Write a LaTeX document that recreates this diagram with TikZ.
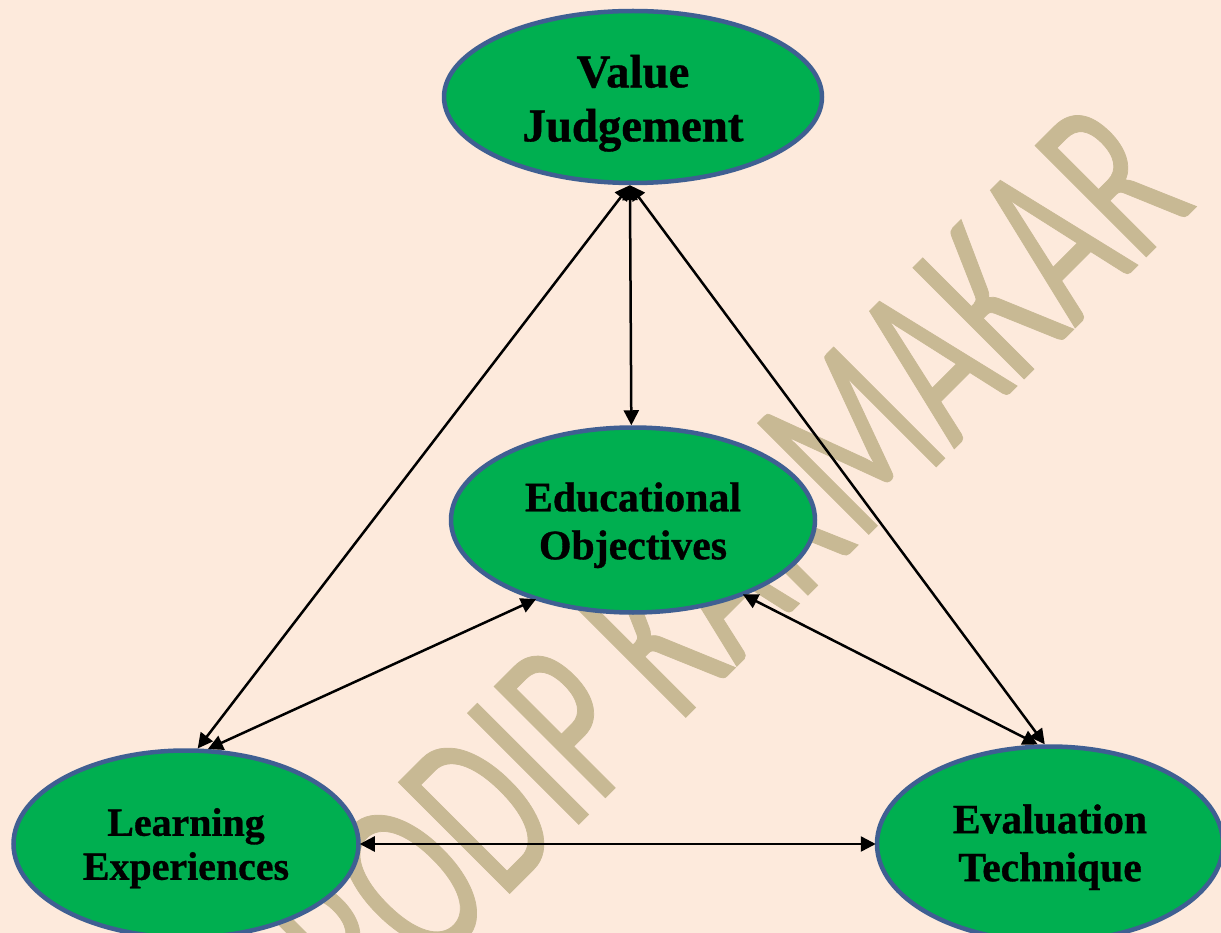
\documentclass[tikz,border=0pt]{standalone}
\usepackage{fontspec}
\setmainfont{Liberation Serif}
\newfontfamily\wmfont[FakeStretch=0.635,FakeBold=0.3]{Carlito}
\newfontfamily\lblfont[FakeBold=0.8]{Liberation Serif Bold}
\usetikzlibrary{shapes.geometric,arrows.meta}
\definecolor{bgc}{HTML}{FDEADC}
\definecolor{wmc}{HTML}{C8B994}
\definecolor{okfill}{HTML}{00AF50}
\definecolor{okline}{HTML}{3F5F92}
\newcommand{\topstrut}[1]{\rule{0pt}{#1pt}}
\tikzset{
  goal/.style={ellipse,draw=okline,fill=okfill,line width=4.5pt,inner sep=0pt,outer sep=2.25pt,align=center,text=black},
  link/.style={line width=2.5pt,draw=black,{Triangle[length=15pt,width=15pt]}-{Triangle[length=15pt,width=15pt]}}
}
\begin{document}
\begin{tikzpicture}[x=1pt,y=-1pt]
\useasboundingbox (0,0) rectangle (1221,933);
\clip (0,0) rectangle (1221,933);
\fill[bgc] (0,0) rectangle (1221,933);
\node[anchor=base east,rotate=45,text=wmc,inner sep=0pt,font=\wmfont\fontsize{245}{245}\selectfont] (mark) at (1198,205) {PRODIP KARMAKAR};
\node[goal,minimum width=378pt,minimum height=172pt,font=\lblfont\fontsize{46.8}{54}\selectfont] (val) at (633,97) {\topstrut{45}Value\\Judgement};
\node[goal,minimum width=364pt,minimum height=185pt,font=\lblfont\fontsize{41.8}{48}\selectfont] (edu) at (633,520) {\topstrut{39.4}Educational\\Objectives};
\node[goal,minimum width=345pt,minimum height=187pt,font=\lblfont\fontsize{39.9}{44}\selectfont] (lrn) at (186,844) {\topstrut{36}Learning\\Experiences};
\node[goal,minimum width=346pt,minimum height=195pt,font=\lblfont\fontsize{41.6}{48}\selectfont] (eva) at (1050,844) {\topstrut{35.3}Evaluation\\Technique};
\draw[link] (val.268.7) -- (edu.91.2);
\draw[link] (val.268.7) -- (lrn.83);
\draw[link] (val.268.7) -- (eva.93);
\draw[link,shorten >=-2pt] (lrn.77) -- (edu.219);
\draw[link,shorten <=-2pt] (edu.-34) -- (eva.97);
\draw[link,shorten <=-1pt,shorten >=-1pt] (lrn.0) -- (eva.180);
\end{tikzpicture}
\end{document}
